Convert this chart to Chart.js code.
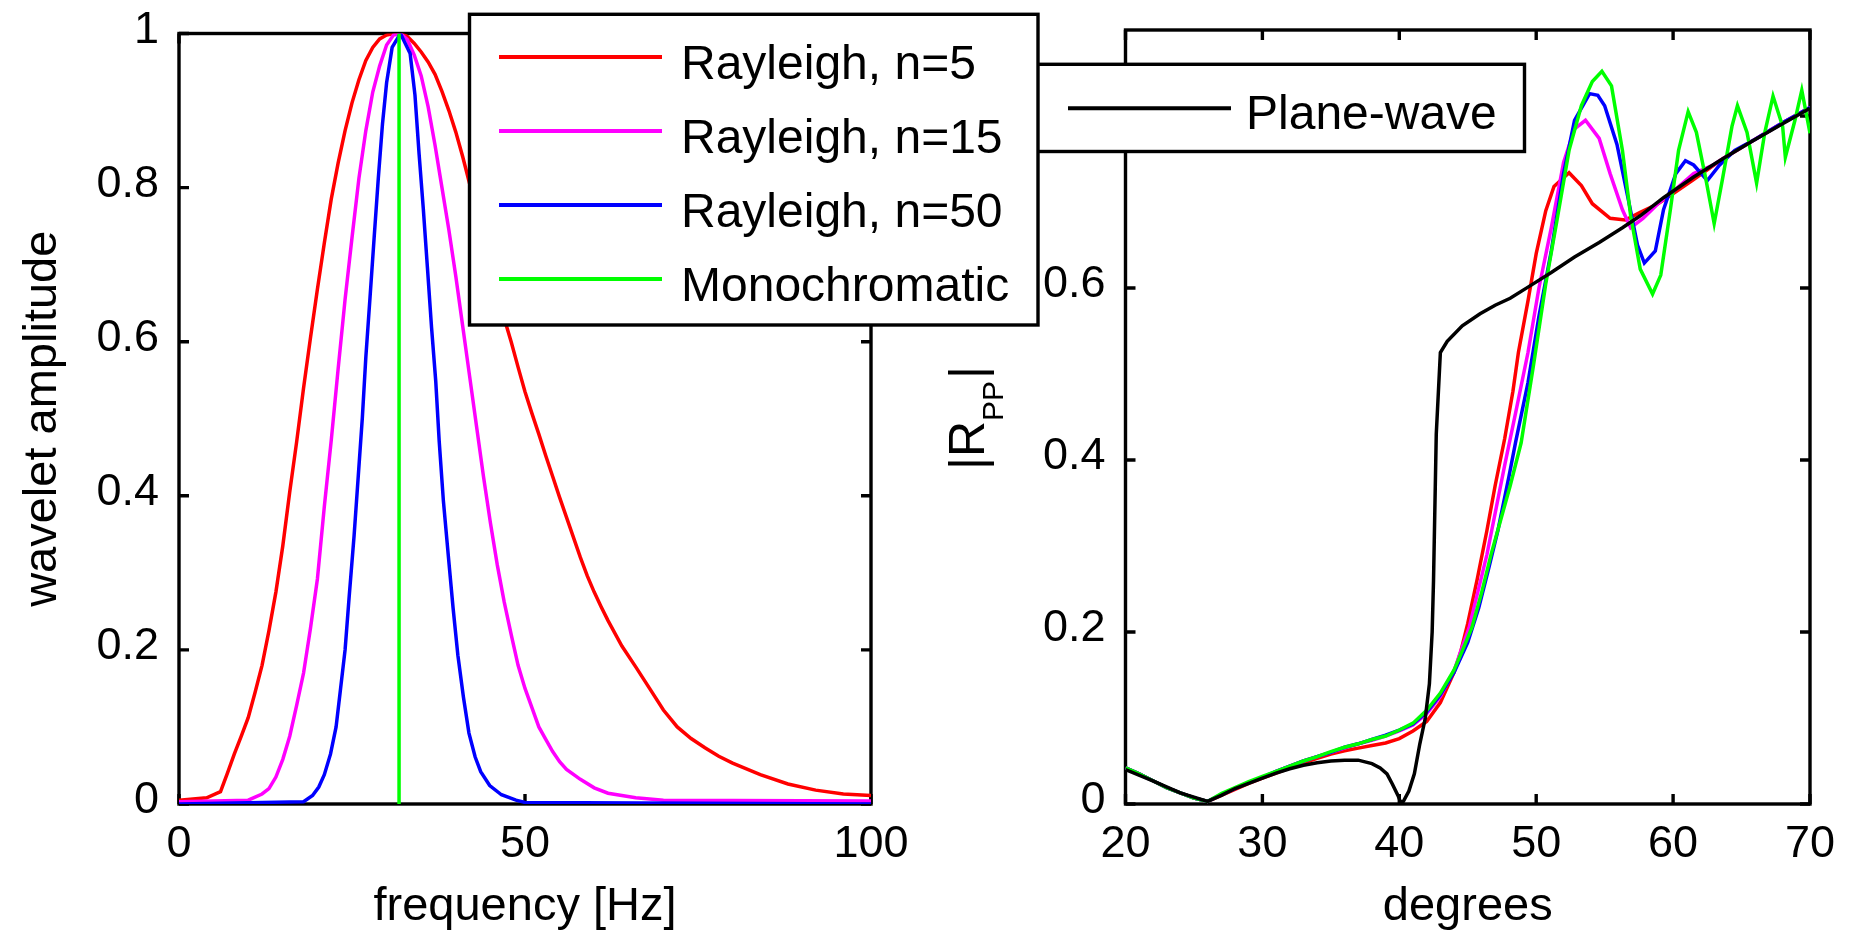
<!DOCTYPE html>
<html lang="en">
<head>
<meta charset="UTF-8">
<title>Rayleigh wavelets and |Rpp|</title>
<script src="https://cdn.jsdelivr.net/npm/chart.js"></script>
<style>
  html, body { margin: 0; padding: 0; background: #fff; overflow: hidden; }
  #wrap { position: relative; width: 1851px; height: 935px; }
  #wrap canvas { position: absolute; left: 0; top: 0; }
</style>
</head>
<body>
<div id="wrap">
  <canvas id="rpp-chart" width="1851" height="935"></canvas>
  <canvas id="wavelet-chart" width="1851" height="935"></canvas>
</div>
<script>
// ---- left panel: wavelet spectra, [frequency Hz, amplitude] ----
var waveN5 = [[0,0.005],[4,0.008],[6,0.016],[7,0.04],[8,0.065],[9,0.088],[10,0.112],[11,0.145],[12,0.18],
  [13,0.225],[14,0.275],[15,0.335],[16,0.405],[17,0.47],[18,0.54],[19,0.605],[20,0.668],[21,0.728],
  [22,0.785],[23,0.832],[24,0.874],[25,0.91],[26,0.94],[27,0.965],[28,0.982],[29,0.993],[30,0.998],
  [31,1.0],[32,1.0],[33,0.996],[34,0.987],[35,0.976],[36,0.963],[37,0.947],[38,0.925],[39,0.9],
  [40,0.872],[41,0.84],[42,0.805],[43,0.767],[44,0.728],[45,0.692],[46,0.66],[47,0.63],[48,0.6],
  [49,0.567],[50,0.535],[51,0.507],[52,0.48],[53,0.452],[54,0.425],[55,0.398],[56,0.372],[57,0.346],
  [58,0.32],[59,0.296],[60,0.275],[61,0.256],[62,0.238],[64,0.205],[66,0.178],[68,0.15],[70,0.122],
  [72,0.1],[74,0.085],[76,0.073],[78,0.062],[80,0.053],[84,0.038],[88,0.026],[92,0.018],[96,0.013],[100,0.011]];
var waveN15 = [[0,0.003],[10,0.005],[12,0.013],[13,0.02],[14,0.035],[15,0.058],[16,0.088],[17,0.128],
  [18,0.17],[19,0.228],[20,0.292],[21,0.386],[22,0.472],[23,0.565],[24,0.655],[25,0.735],[26,0.812],
  [27,0.874],[28,0.924],[29,0.958],[30,0.985],[31,0.998],[32,1.0],[33,0.992],[34,0.972],[35,0.945],
  [36,0.905],[37,0.855],[38,0.8],[39,0.745],[40,0.685],[41,0.62],[42,0.555],[43,0.49],[44,0.425],
  [45,0.365],[46,0.31],[47,0.262],[48,0.22],[49,0.18],[50,0.15],[51,0.125],[52,0.1],[53,0.084],
  [54,0.068],[55,0.055],[56,0.045],[58,0.032],[60,0.021],[62,0.014],[66,0.008],[70,0.005],[100,0.004]];
var waveN50 = [[0,0],[18,0.003],[19.3,0.011],[20.2,0.022],[21,0.038],[21.9,0.065],[22.7,0.1],[23.3,0.146],
  [24,0.2],[24.6,0.27],[25.3,0.348],[25.9,0.425],[26.5,0.502],[27,0.58],[27.6,0.657],[28.2,0.735],
  [28.8,0.812],[29.4,0.882],[30,0.936],[30.8,0.982],[32,1.0],[33.4,0.974],[34.1,0.92],[34.7,0.843],
  [35.3,0.773],[35.9,0.696],[36.5,0.618],[37.1,0.549],[37.6,0.471],[38.2,0.394],[38.9,0.324],
  [39.6,0.255],[40.3,0.193],[41.1,0.139],[41.9,0.092],[42.8,0.061],[43.6,0.042],[44.9,0.024],
  [46.6,0.012],[48.7,0.005],[50,0.002],[100,0]];
var waveMono = [[31.8,0],[31.8,1]];

// ---- right panel: |Rpp| vs incidence angle, [degrees, |Rpp|] ----
var rppN5 = [[20,0.042],[21,0.035],[22,0.027],[23,0.019],[24,0.013],[25,0.007],[26,0.003],[27,0.01],
  [28,0.017],[29,0.024],[30,0.03],[31,0.036],[32,0.042],[33,0.048],[34,0.053],[35,0.058],[36,0.062],
  [37,0.065],[38,0.068],[39,0.071],[40,0.076],[41,0.085],[42,0.096],[43,0.118],[44,0.153],[44.5,0.178],
  [45,0.21],[45.7,0.262],[46.4,0.318],[47,0.37],[47.7,0.425],[48.3,0.48],[48.7,0.525],[49.4,0.585],
  [50,0.64],[50.7,0.69],[51.3,0.718],[52.4,0.734],[53.3,0.719],[54.1,0.698],[55.4,0.681],[56.5,0.679],
  [57.6,0.688],[58.9,0.698],[60.2,0.712],[61.5,0.726],[63.6,0.75],[66,0.773],[68,0.792],[70,0.81]];
var rppN15 = [[20,0.042],[21,0.035],[22,0.027],[23,0.019],[24,0.013],[25,0.007],[26,0.003],[27,0.011],
  [28,0.018],[29,0.025],[30,0.031],[31,0.038],[32,0.044],[33,0.05],[34,0.055],[35,0.06],[36,0.065],
  [37,0.07],[38,0.074],[39,0.079],[40,0.085],[41,0.092],[42,0.105],[43,0.125],[44,0.155],[44.5,0.178],
  [45.1,0.205],[46.4,0.29],[47.7,0.394],[48.5,0.455],[49.4,0.525],[50.2,0.6],[51.1,0.67],[52,0.746],
  [52.8,0.785],[53.6,0.795],[54.6,0.774],[55.4,0.733],[56.3,0.691],[56.9,0.67],[57.8,0.681],[58.9,0.698],
  [60.2,0.715],[61.5,0.733],[62.8,0.742],[64,0.754],[66,0.773],[68,0.792],[70,0.81]];
var rppN50 = [[20,0.042],[21,0.035],[22,0.027],[23,0.019],[24,0.013],[25,0.007],[26,0.003],[27,0.011],
  [28,0.018],[29,0.025],[30,0.031],[31,0.038],[32,0.044],[33,0.05],[34,0.055],[35,0.06],[36,0.066],
  [37,0.07],[38,0.075],[39,0.08],[40,0.086],[41,0.093],[42,0.107],[43,0.127],[44,0.153],[45,0.188],
  [45.8,0.228],[46.5,0.272],[47.2,0.318],[48,0.38],[48.5,0.421],[49.4,0.49],[50.2,0.567],[51.1,0.643],
  [52,0.733],[52.8,0.795],[53.9,0.826],[54.5,0.824],[55,0.812],[55.9,0.767],[56.7,0.705],[57.4,0.65],
  [57.9,0.629],[58.7,0.643],[59.3,0.691],[60.2,0.733],[60.9,0.748],[61.5,0.743],[62.5,0.725],
  [63.4,0.743],[64.5,0.76],[66,0.773],[68,0.792],[70,0.81]];
var rppMono = [[20,0.042],[21,0.035],[22,0.027],[23,0.019],[24,0.013],[25,0.007],[26,0.003],[27,0.012],
  [28,0.019],[29,0.026],[30,0.032],[31,0.038],[32,0.044],[33,0.05],[34,0.055],[35,0.061],[36,0.066],
  [37,0.07],[38,0.075],[39,0.079],[40,0.086],[41,0.094],[42,0.109],[43,0.129],[44,0.156],[44.6,0.178],
  [45.3,0.205],[46,0.245],[46.7,0.29],[47.4,0.33],[48.1,0.37],[48.9,0.42],[49.8,0.51],[50.7,0.605],
  [51.5,0.677],[52.4,0.76],[53.3,0.812],[54.1,0.84],[54.8,0.852],[55.5,0.835],[56.3,0.76],[56.9,0.684],
  [57.6,0.622],[58.5,0.593],[59.1,0.615],[59.8,0.691],[60.4,0.76],[61.1,0.805],[61.7,0.781],[62.4,0.726],
  [63,0.675],[63.6,0.726],[64.3,0.788],[64.7,0.812],[65.4,0.781],[66.1,0.722],[66.7,0.781],[67.3,0.823],
  [68,0.788],[68.2,0.752],[68.9,0.795],[69.4,0.83],[70,0.78]];
var planeWave = [[20,0.04],[22,0.027],[24,0.013],[26,0.003],[27,0.01],[28,0.018],[29,0.024],[30,0.03],
  [31,0.036],[32,0.041],[33,0.045],[34,0.048],[35,0.05],[36,0.051],[37,0.051],[38,0.047],[38.6,0.042],
  [39.1,0.035],[39.5,0.023],[39.9,0.01],[40.1,0.002],[40.3,0.003],[40.7,0.015],[41.1,0.035],[41.5,0.07],
  [41.9,0.1],[42.2,0.14],[42.4,0.2],[42.5,0.26],[42.7,0.43],[43,0.525],[43.5,0.538],[44.6,0.556],
  [45.9,0.57],[47,0.58],[48.1,0.588],[49.4,0.601],[51.1,0.618],[52.8,0.636],[54.6,0.653],[56.3,0.67],
  [57.6,0.684],[59.3,0.705],[61.5,0.729],[63.6,0.75],[65.8,0.771],[68,0.791],[70,0.809]];

var seriesLabels = ['Rayleigh, n=5', 'Rayleigh, n=15', 'Rayleigh, n=50', 'Monochromatic', 'Plane-wave'];
var seriesColors = ['#ff0000', '#ff00ff', '#0000ff', '#00ff00', '#000000'];

var FAMILY = '"Liberation Sans", Arial, Helvetica, sans-serif';
var tickFont = { family: FAMILY, size: 45 };
var titleFont = { family: FAMILY, size: 47 };

function toXY(pts) {
  return pts.map(function (p) { return { x: p[0], y: p[1] }; });
}

function fmt(v) { return String(+v.toFixed(2)); }

// matlab style box with inward ticks on all four sides
const matlabBox = {
  id: 'matlabBox',
  beforeDatasetsDraw(chart) {
    const ctx = chart.ctx, a = chart.chartArea;
    const x = chart.scales.x, y = chart.scales.y;
    const len = 10;
    ctx.save();
    ctx.strokeStyle = '#000';
    ctx.lineWidth = 3.4;
    ctx.strokeRect(a.left, a.top, a.right - a.left, a.bottom - a.top);
    ctx.beginPath();
    x.ticks.forEach(function (t) {
      const px = x.getPixelForValue(t.value);
      ctx.moveTo(px, a.bottom); ctx.lineTo(px, a.bottom - len);
      ctx.moveTo(px, a.top); ctx.lineTo(px, a.top + len);
    });
    y.ticks.forEach(function (t) {
      const py = y.getPixelForValue(t.value);
      ctx.moveTo(a.left, py); ctx.lineTo(a.left + len, py);
      ctx.moveTo(a.right, py); ctx.lineTo(a.right - len, py);
    });
    ctx.stroke();
    ctx.restore();
  }
};

// boxed legend placed freely on the canvas
const boxLegend = {
  id: 'boxLegend',
  afterDraw(chart, args, o) {
    const ctx = chart.ctx;
    const b = o.box;
    ctx.save();
    ctx.fillStyle = '#fff';
    ctx.fillRect(b[0], b[1], b[2] - b[0], b[3] - b[1]);
    ctx.strokeStyle = '#000';
    ctx.lineWidth = 3.4;
    ctx.strokeRect(b[0], b[1], b[2] - b[0], b[3] - b[1]);
    ctx.font = o.textSize + 'px ' + FAMILY;
    ctx.textBaseline = 'alphabetic';
    ctx.textAlign = 'left';
    o.items.forEach(function (idx, i) {
      const ds = chart.data.datasets[idx];
      const yy = o.firstY + i * o.rowStep;
      ctx.strokeStyle = ds.borderColor;
      ctx.lineWidth = 4;
      ctx.beginPath();
      ctx.moveTo(o.lineX[0], yy);
      ctx.lineTo(o.lineX[1], yy);
      ctx.stroke();
      ctx.fillStyle = '#000';
      ctx.fillText(ds.label, o.textX, yy + o.textDy);
    });
    ctx.restore();
  }
};

// |R_PP| axis label with subscript
const rppLabel = {
  id: 'rppLabel',
  afterDraw(chart, args, o) {
    const ctx = chart.ctx;
    ctx.save();
    ctx.translate(o.x, o.y);
    ctx.rotate(-Math.PI / 2);
    ctx.fillStyle = '#000';
    ctx.textBaseline = 'alphabetic';
    ctx.textAlign = 'left';
    let cx = 0;
    ctx.font = '50px ' + FAMILY;
    ctx.fillText('|R', cx, 0);
    cx += ctx.measureText('|R').width;
    ctx.font = '30px ' + FAMILY;
    ctx.fillText('PP', cx, 19);
    cx += ctx.measureText('PP').width + 2;
    ctx.font = '50px ' + FAMILY;
    ctx.fillText('|', cx, 0);
    ctx.restore();
  }
};

function makeDataset(i, pts, order) {
  return {
    label: seriesLabels[i],
    data: toXY(pts),
    borderColor: seriesColors[i],
    backgroundColor: seriesColors[i],
    borderWidth: 3.5,
    pointRadius: 0,
    tension: 0,
    fill: false,
    order: order
  };
}

function axis(min, max, step, width, height, title) {
  return {
    type: 'linear', min: min, max: max,
    border: { display: false },
    grid: { display: false, drawTicks: false },
    ticks: { stepSize: step, color: '#000', font: tickFont, maxRotation: 0, autoSkip: false,
             includeBounds: false, callback: fmt },
    title: title ? { display: true, text: title, color: '#000', font: titleFont, padding: 0 } : { display: false },
    afterFit: function (s) {
      if (width) s.width = width;
      if (height) s.height = height;
      // keep label overflow from pushing the plot area around
      s.paddingTop = 0; s.paddingBottom = 0; s.paddingLeft = 0; s.paddingRight = 0;
    }
  };
}

// right chart (drawn underneath)
var rppX = axis(20, 70, 10, 0, 131, 'degrees');
rppX.ticks.padding = 14;
var rppY = axis(0, 0.9, 0.2, 1125.5, 0, null);
rppY.ticks.padding = 20;
rppY.ticks.labelOffset = -3;

var rppChart = new Chart(document.getElementById('rpp-chart'), {
  type: 'line',
  data: {
    datasets: [
      makeDataset(0, rppN5, 4),
      makeDataset(1, rppN15, 3),
      makeDataset(2, rppN50, 2),
      makeDataset(3, rppMono, 1),
      makeDataset(4, planeWave, 0)
    ]
  },
  options: {
    responsive: false,
    animation: false,
    devicePixelRatio: 1,
    layout: { padding: { left: 0, top: 30, right: 41, bottom: 0 } },
    plugins: {
      legend: { display: false },
      tooltip: { enabled: false },
      boxLegend: { box: [1036, 64.3, 1524.5, 151.5], items: [4], lineX: [1068, 1231], textX: 1246,
                   firstY: 108.3, rowStep: 74, textDy: 21, textSize: 48 },
      rppLabel: { x: 984, y: 470 }
    },
    scales: { x: rppX, y: rppY }
  },
  plugins: [matlabBox, boxLegend, rppLabel]
});

// left chart (drawn on top, legend overlaps the right panel)
var waveX = axis(0, 100, 50, 0, 131, 'frequency [Hz]');
waveX.ticks.padding = 14;
var waveY = axis(0, 1, 0.2, 179, 0, 'wavelet amplitude');
waveY.ticks.padding = 20;
waveY.ticks.labelOffset = -3;
waveY.title.padding = { top: 15, bottom: 0 };

var waveChart = new Chart(document.getElementById('wavelet-chart'), {
  type: 'line',
  data: {
    datasets: [
      makeDataset(0, waveN5, 4),
      makeDataset(1, waveN15, 3),
      makeDataset(2, waveN50, 2),
      makeDataset(3, waveMono, 1)
    ]
  },
  options: {
    responsive: false,
    animation: false,
    devicePixelRatio: 1,
    layout: { padding: { left: 0, top: 33.5, right: 980, bottom: 0 } },
    plugins: {
      legend: { display: false },
      tooltip: { enabled: false },
      boxLegend: { box: [469.5, 14.3, 1038, 325], items: [0, 1, 2, 3], lineX: [499, 662], textX: 681,
                   firstY: 57, rowStep: 74, textDy: 22, textSize: 48 }
    },
    scales: { x: waveX, y: waveY }
  },
  plugins: [matlabBox, boxLegend]
});
</script>
</body>
</html>
